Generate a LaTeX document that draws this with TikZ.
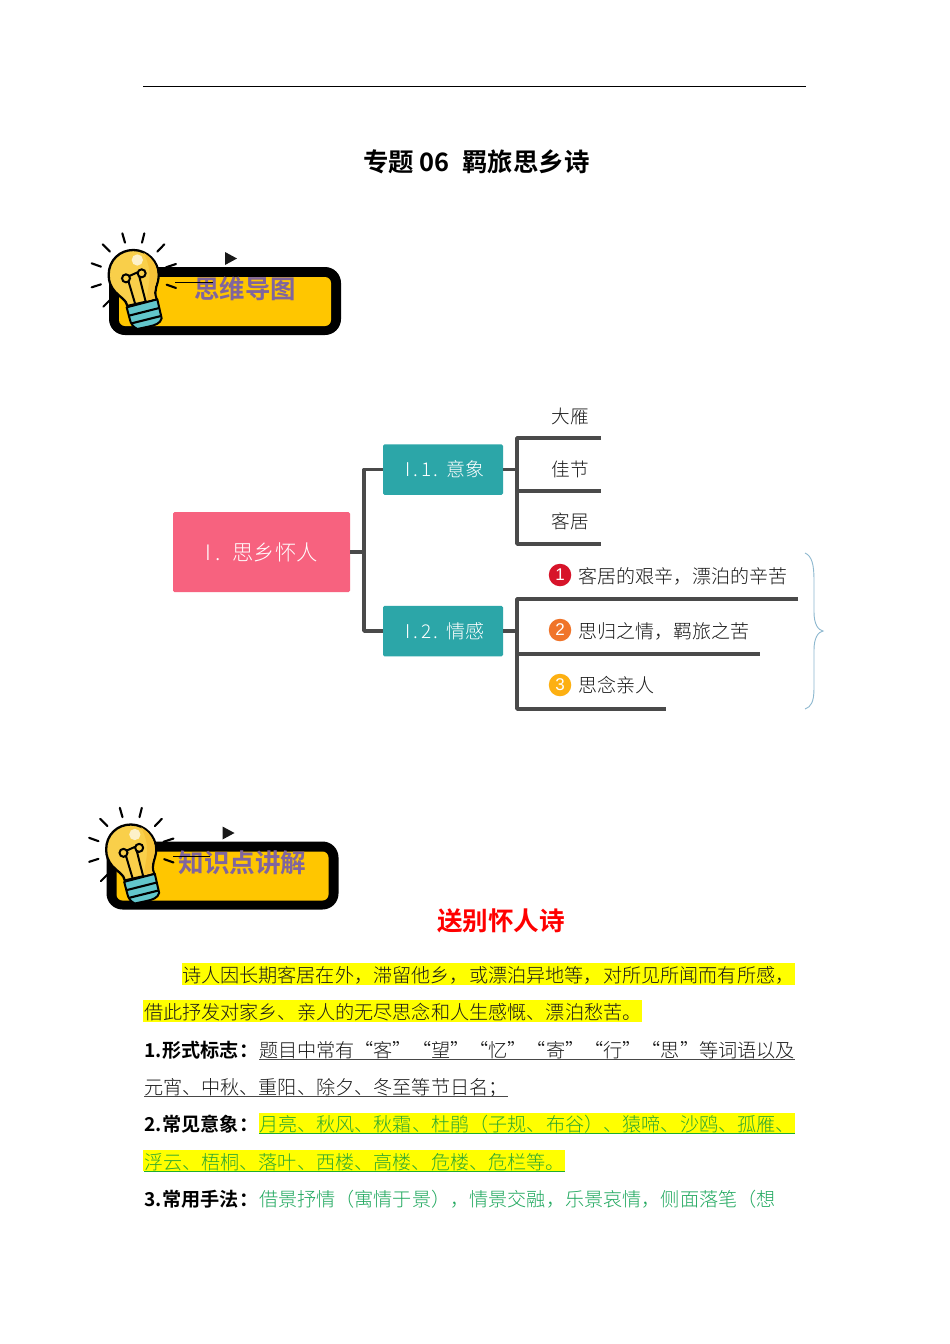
\documentclass[tikz,border=0pt]{standalone}
\usepackage{fontspec}
\setmainfont{Noto Sans CJK SC Light}[BoldFont={Noto Sans CJK SC Bold}]
\newfontfamily\regcjk{Noto Sans CJK SC}
\newfontfamily\boldcjk{Noto Sans CJK SC Bold}
\newfontfamily\digitfont{Liberation Sans}
\definecolor{pinkbox}{HTML}{F7627F}
\definecolor{tealbox}{HTML}{2CA6A8}
\definecolor{linkc}{HTML}{4A4A4A}
\definecolor{barfill}{HTML}{FFC600}
\definecolor{bannertext}{HTML}{80659E}
\definecolor{bulbc}{HTML}{F9CF4A}
\definecolor{bulbd}{HTML}{F6C238}
\definecolor{basec}{HTML}{62C6CC}
\definecolor{bracec}{HTML}{8DB8CF}
\definecolor{greena}{HTML}{2FA82F}
\definecolor{greenb}{HTML}{1FA85E}
\definecolor{greenu}{HTML}{1FAE2E}
\definecolor{hl}{HTML}{FFFF00}
\definecolor{inktext}{HTML}{1A1A1A}
\newcommand{\bodysize}{\fontsize{19.14}{19.14}\selectfont}
\tikzset{
  txt/.style={inner sep=0pt,outer sep=0pt,anchor=base west,text=inktext,font=\bodysize},
  lbl/.style={txt,text=black,font=\bodysize\boldcjk},
  leaf/.style={inner sep=0pt,text=inktext,font=\fontsize{18.6}{18.6}\selectfont},
  rootbox/.style={draw=none,fill=pinkbox,rounded corners=1.5pt,minimum width=177pt,minimum height=80pt,inner sep=0pt,text=white,font=\fontsize{21.3}{21.3}\selectfont},
  subbox/.style={draw=none,fill=tealbox,rounded corners=1.5pt,minimum width=120pt,minimum height=50.5pt,inner sep=0pt,text=white,font=\fontsize{19}{19}\selectfont},
  link/.style={draw=linkc,line width=3.6pt,line cap=butt,line join=round},
  badge/.style={circle,minimum size=22.5pt,inner sep=0pt,text=white,font=\fontsize{17}{17}\selectfont\digitfont},
  bannerlabel/.style={inner sep=0pt,text=bannertext,font=\fontsize{25.4}{25.4}\selectfont\boldcjk},
  ray/.style={draw=black,line width=2.1pt,line cap=round},
  hlbar/.style={fill=hl,draw=none},
}
\newcommand{\banner}{%
  \fill[black,rounded corners=16pt] (109,267) rectangle (341,335);
  \fill[barfill,rounded corners=6pt] (119,277) rectangle (331,326);
  \begin{scope}[shift={(80,220)},x=0.3333pt,y=-0.3333pt]
    \draw[ray] (127,40)--(135,68) (193,40)--(186,68) (68,73)--(90,95) (253,73)--(232,95)
      (35,130)--(63,140) (288,132)--(258,142) (35,202)--(63,193) (288,204)--(260,194) (70,260)--(90,240);
    \filldraw[fill=bulbc,draw=black,line width=2.3pt,line join=round]
      (142,258) .. controls (140,240) and (120,232) .. (105,215)
      .. controls (92,200) and (86,185) .. (86,165)
      .. controls (86,120) and (120,90) .. (160,90)
      .. controls (202,90) and (236,125) .. (236,165)
      .. controls (236,195) and (218,208) .. (230,238) -- cycle;
    \fill[bulbd] (190,98) .. controls (215,112) and (232,135) .. (232,165)
      .. controls (232,195) and (214,208) .. (226,236) -- (200,243)
      .. controls (200,205) and (225,160) .. (190,98) -- cycle;
    \fill[white!70!bulbc] (172,120) circle (17);
    \draw[black,line width=2pt,line cap=round]
      (138,175) circle (12) (185,160) circle (12)
      (146,186)--(165,250) (178,170)--(197,245) (148,168)--(175,156);
    \filldraw[fill=basec,draw=black,line width=2pt,line join=round]
      (140,262) -- (232,238) -- (245,295) .. controls (242,310) and (225,316) .. (205,320)
      -- (172,327) .. controls (160,322) and (152,310) .. (150,300) -- cycle;
    \draw[black,line width=2.1pt] (147,287)--(238,264) (155,310)--(243,288);
  \end{scope}
  \fill[black!90] (225,252) -- (237,258.5) -- (225,265) -- cycle;
}
\begin{document}
\begin{tikzpicture}[x=1pt,y=-1pt]
\useasboundingbox[fill=white] (0,0) rectangle (950,1344);
% top rule and title
\coordinate (ruleL) at (143,86.5);
\coordinate (ruleR) at (806,86.5);
\draw[black,line width=1.6pt] (ruleL) -- (ruleR);
\node[inner sep=0pt,text=black,anchor=base west,font=\fontsize{25.4}{25.4}\selectfont\boldcjk] (title) at (363,171) {专题 06 \hspace{7pt}羁旅思乡诗};
% banner 1
\banner
\coordinate (t1a) at (175,282); \coordinate (t1b) at (213,282);
\node[bannerlabel] (b1) at (245,289) {思维导图};
\draw[black,line width=0.7pt] (t1a) -- (t1b);
% banner 2
\begin{scope}[shift={(-2.5,574.5)}]
\banner
\end{scope}
\coordinate (t2a) at (173,856); \coordinate (t2b) at (210,856);
\node[bannerlabel,font=\fontsize{25.6}{25.6}\selectfont\boldcjk] (b2) at (242.5,862.5) {知识点讲解};
\draw[black,line width=0.7pt] (t2a) -- (t2b);
% mind map
\node[rootbox] (root) at (261.5,552) {I\hspace{4pt}.\hspace{12pt}思乡怀人};
\node[subbox] (s1) at (443,469.5) {\hspace{4pt}I\hspace{3pt}.\hspace{3pt}1\hspace{2pt}.\hspace{8pt}意象};
\node[subbox] (s2) at (443,631) {\hspace{4pt}I\hspace{3pt}.\hspace{3pt}2\hspace{2pt}.\hspace{8pt}情感};
\coordinate (j0) at (364,552);
\draw[link] (root.east |- j0) -- (j0);
\draw[link] (s1.west) -| (j0) |- (s2.west);
% branch 1
\coordinate (j1) at (517,469.5);
\coordinate (a1) at (601,438); \coordinate (a2) at (601,491); \coordinate (a3) at (601,544);
\draw[link] (s1.east) -- (j1);
\draw[link] (a1) -- (a1 -| j1) -- (a3 -| j1) -- (a3);
\draw[link] (a2 -| j1) -- (a2);
\node[leaf] (l1) at (570,416.5) {大雁};
\node[leaf] (l2) at (570,469) {佳节};
\node[leaf] (l3) at (570,521) {客居};
% branch 2
\coordinate (j2) at (517,631);
\coordinate (c1) at (798,599); \coordinate (c2) at (760,654); \coordinate (c3) at (666,709);
\draw[link] (s2.east) -- (j2);
\draw[link] (c1) -- (c1 -| j2) -- (c3 -| j2) -- (c3);
\draw[link] (c2 -| j2) -- (c2);
\node[badge,fill={rgb,255:red,215;green,20;blue,42}] (n1) at (560,575) {1};
\node[badge,fill={rgb,255:red,240;green,116;blue,42}] (n2) at (560,630) {2};
\node[badge,fill={rgb,255:red,253;green,176;blue,18}] (n3) at (560,685) {3};
\node[txt,font=\fontsize{19}{19}\selectfont] (e1) at (578,583) {客居的艰辛，漂泊的辛苦};
\node[txt,font=\fontsize{19}{19}\selectfont] (e2) at (578,638) {思归之情，羁旅之苦};
\node[txt,font=\fontsize{19}{19}\selectfont] (e3) at (578,692.5) {思念亲人};
% brace
\draw[bracec,line width=0.9pt] (805,553) .. controls (812,556) and (814,565) .. (814,580) -- (814,612)
  .. controls (814,624) and (818,630) .. (823,631) .. controls (818,632) and (814,638) .. (814,650) -- (814,688)
  .. controls (814,702) and (811,707) .. (805,709);
% heading
\node[inner sep=0pt,text=red,font=\fontsize{25.6}{25.6}\selectfont\boldcjk] (head) at (501,921) {送别怀人诗};
% highlights
\fill[hlbar] (182,963) rectangle (795,985);
\fill[hlbar] (143,1000) rectangle (642,1022);
\fill[hlbar] (259,1113) rectangle (795,1133);
\fill[hlbar] (143,1150) rectangle (565,1171);
% body
\node[txt] (p1) at (182,982) {诗人因长期客居在外，滞留他乡，或漂泊异地等，对所见所闻而有所感，};
\node[txt] (p2) at (144,1019) {借此抒发对家乡、亲人的无尽思念和人生感慨、漂泊愁苦。};
\node[lbl] (p3a) at (144,1057) {1.\hspace{1pt}形式标志：};
\node[txt] (p3b) at (259,1057) {题目中常有“客”“望”“忆”“寄”“行”“思”等词语以及};
\node[txt] (p4) at (144,1094) {元宵、中秋、重阳、除夕、冬至等节日名；};
\node[lbl] (p5a) at (144,1131) {2.\hspace{1pt}常见意象：};
\node[txt,text=greena] (p5b) at (259,1131) {月亮、秋风、秋霜、杜鹃（子规、布谷）、猿啼、沙鸥、孤雁、};
\node[txt,text=greena] (p6) at (144,1169) {浮云、梧桐、落叶、西楼、高楼、危楼、危栏等。};
\node[lbl] (p7a) at (144,1206) {3.\hspace{1pt}常用手法：};
\node[txt,text=greenb] (p7b) at (259,1206) {借景抒情（寓情于景），情景交融，乐景哀情，侧面落笔（想};
% underlines
\draw[inktext!80,line width=0.9pt] (259,1059.5) -- (795,1059.5);
\draw[inktext!80,line width=0.9pt] (144,1096.5) -- (508,1096.5);
\draw[greenu,line width=0.9pt] (259,1133.5) -- (795,1133.5);
\draw[greenu,line width=0.9pt] (144,1171) -- (565,1171);
\end{tikzpicture}
\end{document}
